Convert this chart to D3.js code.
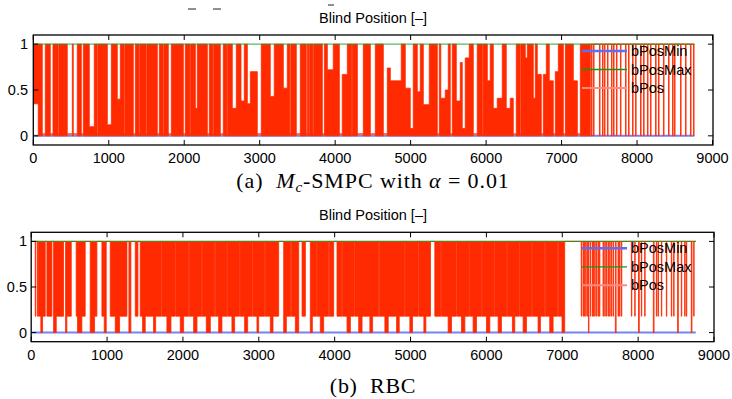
<!DOCTYPE html>
<html>
<head>
<meta charset="utf-8">
<script src="https://cdn.jsdelivr.net/npm/d3@7/dist/d3.min.js"></script>
<style>
  body { margin: 0; background: #fff; }
</style>
</head>
<body>
<svg id="chart" width="732" height="399"></svg>
<script>
// axis ticks
const xTicks = [0, 1000, 2000, 3000, 4000, 5000, 6000, 7000, 8000, 9000];
const yTicks = [0, 0.5, 1];
const yTickLabels = ['0', '0.5', '1'];
const seriesNames = ['bPosMin', 'bPosMax', 'bPos'];
const plotTitle = 'Blind Position [–]';

// limits of the blind position (flat over the year)
const bPosMin = 0;
const bPosMax = 1;
const hourSpan = [0, 8760];

// bPos, read off the picture as runs: [start hour, lowest value, highest value]
// each run lasts until the next start; inside a run the signal swings between lo and hi
const runsA = [
  [0, 0.35, 1], [66, 0, 1], [119, 0.02, 0.02], [159, 0, 1], [225, 0.02, 0.02], [261, 0, 1],
  [330, 0.02, 0.02], [340, 0, 1],
  [450, 0.02, 0.02], [517, 0, 1], [530, 0.02, 0.02], [583, 0, 1], [636, 0.02, 0.02], [663, 0, 1],
  [742, 0, 0.1], [808, 0, 1], [845, 0.02, 0.02], [855, 0, 1], [981, 0, 0.12], [1034, 0, 1],
  [1113, 0, 0.4], [1153, 0, 1], [1205, 0.02, 0.02], [1215, 0, 1],
  [1325, 0.02, 0.02], [1352, 0, 1], [1400, 0.02, 0.02], [1410, 0, 1], [1495, 0.02, 0.02], [1505, 0, 1],
  [1643, 0.02, 0.02], [1670, 0, 1], [1720, 0.02, 0.02], [1730, 0, 1], [1789, 0.02, 0.02], [1829, 0, 1],
  [1988, 0.02, 0.02], [2014, 0, 1], [2075, 0.02, 0.02], [2085, 0, 1], [2147, 0, 0.3], [2173, 0, 1],
  [2306, 0.02, 0.02], [2332, 0, 1], [2380, 0.02, 0.02], [2390, 0, 1],
  [2478, 0.02, 0.02], [2518, 0, 1], [2565, 0.02, 0.02], [2575, 0, 1], [2637, 0, 0.3], [2690, 0, 1],
  [2752, 0, 0.38], [2796, 0, 1],
  [2836, 0, 0.35], [2876, 0, 0.7], [2968, 0.02, 0.02], [3021, 0, 1], [3140, 0, 0.43], [3193, 0, 1],
  [3313, 0, 0.52], [3366, 0, 1], [3400, 0.02, 0.02], [3412, 0, 1], [3485, 0.02, 0.02], [3538, 0, 1],
  [3617, 0.02, 0.02], [3631, 0, 1], [3652, 0.02, 0.02], [3662, 0, 1], [3705, 0.02, 0.02], [3715, 0, 1],
  [3830, 0.02, 0.02], [3857, 0, 1], [3896, 0, 0.72], [3975, 0, 1], [4055, 0.02, 0.02], [4094, 0, 0.67],
  [4161, 0, 1], [4220, 0.02, 0.02], [4230, 0, 1], [4294, 0.02, 0.02], [4373, 0, 1], [4466, 0.02, 0.02],
  [4532, 0, 1], [4638, 0.02, 0.02],
  [4691, 0, 0.74], [4731, 0, 0.6], [4876, 0, 1], [4929, 0, 0.52], [4995, 0, 0.08], [5035, 0, 1],
  [5088, 0, 0.48], [5128, 0, 1], [5168, 0, 0.34], [5247, 0, 1], [5353, 0.02, 0.02], [5380, 0, 1],
  [5400, 0, 0.41], [5459, 0, 0.5], [5499, 0, 1], [5525, 0.02, 0.02], [5552, 0, 1], [5605, 0, 0.38],
  [5658, 0, 0.8], [5684, 0, 0.08], [5724, 0, 0.85], [5777, 0, 1], [5830, 0.02, 0.02], [5883, 0, 1],
  [5950, 0.02, 0.02], [5960, 0, 1],
  [6016, 0, 0.6], [6055, 0, 1], [6095, 0, 0.3], [6148, 0, 0.41], [6214, 0, 1], [6267, 0, 0.3],
  [6320, 0, 0.41], [6360, 0.02, 0.02], [6400, 0, 1], [6450, 0.02, 0.02], [6460, 0, 1],
  [6519, 0, 0.85], [6546, 0, 1], [6625, 0, 0.41],
  [6652, 0, 1], [6678, 0, 0.67], [6731, 0.02, 0.02], [6758, 0, 0.67], [6798, 0, 1], [6837, 0, 0.6],
  [6890, 0.02, 0.02], [6917, 0, 0.7], [6957, 0, 1], [7023, 0.02, 0.02], [7050, 0, 1], [7156, 0, 0.6],
  [7209, 0.02, 0.02], [7249, 0, 1], [7381, 1, 1],
  [7396, 0, 1], [7404, 1, 1], [7423, 0, 1], [7431, 1, 1], [7502, 0, 1], [7510, 1, 1],
  [7542, 0, 1], [7550, 1, 1], [7568, 0, 1], [7576, 1, 1], [7608, 0, 1], [7616, 1, 1],
  [7661, 0, 1], [7669, 1, 1], [7688, 0, 1], [7696, 1, 1], [7727, 0, 1], [7735, 1, 1],
  [7780, 0, 1], [7788, 1, 1], [7847, 0, 1], [7855, 1, 1], [7887, 0, 1], [7895, 1, 1],
  [7940, 0, 1], [7948, 1, 1], [7980, 0, 1], [7988, 1, 1], [8046, 0, 1], [8054, 1, 1],
  [8086, 0, 1], [8094, 1, 1], [8138, 0, 1], [8146, 1, 1], [8178, 0, 1], [8186, 1, 1],
  [8245, 0, 1], [8253, 1, 1], [8284, 0, 1], [8292, 1, 1], [8350, 0, 1], [8358, 1, 1],
  [8417, 0, 1], [8425, 1, 1], [8470, 0, 1], [8478, 1, 1], [8496, 0, 1], [8504, 1, 1],
  [8576, 0, 1], [8584, 1, 1], [8642, 0, 1], [8650, 1, 1], [8708, 0, 1], [8716, 1, 1],
  [8748, 0, 1], [8756, 1, 1], [8760, 1, 1]
];

const runsB = [
  [0, 1, 1], [53, 0.18, 1], [62, 1, 1], [84, 0.18, 1], [90, 1, 1], [97, 0.18, 1], [127, 0, 1],
  [150, 0.18, 1], [185, 1, 1], [207, 0.18, 1], [273, 1, 1], [295, 0, 1], [330, 0.18, 1],
  [426, 1, 1], [453, 0, 1], [470, 0.18, 1], [528, 1, 1], [593, 0.18, 1], [611, 0, 1],
  [668, 0.18, 1], [712, 1, 1], [778, 0, 1], [835, 0.18, 1], [866, 1, 1], [932, 0.18, 1],
  [963, 0, 1], [989, 1, 1], [1042, 0.18, 1], [1108, 0, 1], [1165, 0.18, 1], [1262, 1, 1],
  [1288, 0, 1], [1314, 1, 1], [1372, 0.18, 1], [1407, 1, 1], [1437, 0.18, 1], [1468, 0, 1],
  [1503, 0.18, 1], [1613, 0, 1], [1640, 0.18, 1], [1715, 1, 1], [1723, 0.18, 1], [1789, 0, 1],
  [1842, 0.18, 1], [1900, 1, 1], [1908, 0.18, 1], [1965, 0, 1],
  [2009, 0.18, 1], [2075, 1, 1], [2083, 0.18, 1], [2141, 0, 1], [2185, 0.18, 1], [2245, 1, 1],
  [2253, 0.18, 1], [2308, 0, 1], [2361, 0.18, 1], [2420, 1, 1], [2428, 0.18, 1], [2471, 0, 1],
  [2514, 0.18, 1], [2580, 1, 1], [2588, 0.18, 1], [2646, 0, 1], [2681, 0.18, 1], [2745, 1, 1],
  [2753, 0.18, 1], [2813, 0, 1], [2853, 0.18, 1], [2915, 1, 1], [2923, 0.18, 1], [2976, 0, 1],
  [2998, 0.18, 1], [3075, 1, 1], [3083, 0.18, 1], [3152, 0, 1], [3187, 0.18, 1], [3262, 1, 1],
  [3328, 0, 1], [3363, 0.18, 1], [3420, 1, 1], [3428, 0.18, 1],
  [3482, 0, 1], [3526, 1, 1], [3570, 0.18, 1], [3614, 1, 1], [3679, 0, 1], [3706, 0.18, 1],
  [3760, 1, 1], [3768, 0.18, 1], [3811, 0, 1], [3855, 0.18, 1], [3920, 1, 1], [3928, 0.18, 1],
  [3987, 1, 1], [4031, 0.18, 1], [4095, 1, 1], [4103, 0.18, 1], [4163, 0, 1], [4207, 0.18, 1],
  [4260, 1, 1], [4268, 0.18, 1],
  [4317, 0, 1], [4361, 0.18, 1], [4464, 0, 1], [4500, 0.18, 1], [4580, 1, 1], [4588, 0.18, 1],
  [4662, 0, 1], [4706, 0.18, 1],
  [4816, 0, 1], [4851, 0.18, 1], [4920, 1, 1], [4928, 0.18, 1], [4991, 0, 1], [5026, 0.18, 1],
  [5100, 1, 1], [5108, 0.18, 1], [5176, 0, 1], [5202, 0.18, 1],
  [5263, 1, 1], [5320, 0.18, 1], [5400, 1, 1], [5408, 0.18, 1], [5496, 0, 1], [5540, 0.18, 1],
  [5600, 1, 1], [5608, 0.18, 1], [5672, 0, 1], [5716, 0.18, 1], [5770, 1, 1], [5778, 0.18, 1],
  [5825, 0, 1], [5869, 0.18, 1], [5935, 1, 1], [5943, 0.18, 1], [6001, 0, 1], [6045, 0.18, 1],
  [6100, 1, 1], [6108, 0.18, 1], [6155, 0, 1], [6198, 0.18, 1], [6270, 1, 1], [6278, 0.18, 1],
  [6343, 0, 1], [6374, 0.18, 1], [6430, 1, 1], [6438, 0.18, 1], [6484, 0, 1], [6528, 0.18, 1],
  [6600, 1, 1], [6608, 0.18, 1], [6681, 0, 1], [6712, 0.18, 1], [6770, 1, 1], [6778, 0.18, 1],
  [6835, 0, 1], [6879, 0.18, 1], [6940, 1, 1], [6948, 0.18, 1], [6997, 0, 1], [7032, 1, 1],
  [7250, 0.18, 1], [7256, 1, 1], [7274, 0.18, 1], [7280, 1, 1], [7290, 0.18, 1], [7296, 1, 1],
  [7309, 0.18, 1], [7315, 1, 1], [7330, 0.18, 1], [7336, 1, 1], [7345, 0, 1], [7352, 1, 1],
  [7370, 0.18, 1], [7376, 1, 1], [7397, 0.18, 1], [7403, 1, 1], [7410, 0.18, 1], [7416, 1, 1],
  [7428, 0.18, 1], [7434, 1, 1], [7450, 0.18, 1], [7456, 1, 1], [7472, 0.18, 1], [7478, 1, 1],
  [7490, 0.18, 1], [7496, 1, 1], [7537, 0.18, 1], [7543, 1, 1], [7560, 0.18, 1], [7566, 1, 1],
  [7580, 0.18, 1], [7586, 1, 1], [7603, 0.18, 1], [7609, 1, 1], [7625, 0.18, 1], [7631, 1, 1],
  [7647, 0.18, 1], [7653, 1, 1], [7670, 0.18, 1], [7676, 1, 1], [7700, 0, 1], [7710, 1, 1],
  [7735, 0.18, 1], [7741, 1, 1], [7755, 0.18, 1], [7761, 1, 1], [7779, 0.18, 1], [7785, 1, 1],
  [7911, 0.18, 1], [7917, 1, 1], [7955, 0.18, 1], [7961, 1, 1], [8005, 0, 1], [8015, 1, 1],
  [8042, 0.18, 1], [8048, 1, 1], [8086, 0.18, 1], [8092, 1, 1], [8200, 0, 1], [8210, 1, 1],
  [8240, 0.18, 1], [8246, 1, 1], [8262, 0.18, 1], [8268, 1, 1], [8306, 0.18, 1], [8312, 1, 1],
  [8372, 0.18, 1], [8378, 1, 1], [8437, 0.18, 1], [8443, 1, 1], [8468, 0.18, 1], [8474, 1, 1],
  [8520, 0, 1], [8530, 1, 1], [8569, 0.18, 1], [8575, 1, 1], [8613, 0.18, 1], [8619, 1, 1],
  [8635, 0.18, 1], [8641, 1, 1], [8700, 0, 1], [8710, 1, 1], [8732, 0.18, 1], [8738, 1, 1],
  [8760, 1, 1]
];

const svg = d3.select('#chart');
const sans = '"Liberation Sans", Arial, sans-serif';
const serif = '"Liberation Serif", "DejaVu Serif", serif';
const colors = { min: '#5d6ef2', max: '#17951a', pos: '#ff2a00', posLegend: '#ff8c80' };

const panels = [
  { runs: runsA, left: 33.3, right: 713, top: 35, bottom: 145, xEnd: 712.5, labelRight: 28, titleY: 23 },
  { runs: runsB, left: 31.2, right: 714, top: 232.3, bottom: 341.7, xEnd: 714, labelRight: 27, titleY: 220 }
];

panels.forEach((p, k) => {
  const x = d3.scaleLinear().domain([0, 9000]).range([p.left, p.xEnd]);
  const y = d3.scaleLinear().domain([-0.1, 1.1]).range([p.bottom, p.top]);
  const g = svg.append('g').style('font-family', sans);

  const clipId = 'clip' + k;
  g.append('clipPath').attr('id', clipId)
    .append('rect')
    .attr('x', p.left).attr('y', p.top)
    .attr('width', p.right - p.left).attr('height', p.bottom - p.top);

  const plot = g.append('g').attr('clip-path', 'url(#' + clipId + ')');
  const flat = d3.line().x(d => x(d[0])).y(d => y(d[1]));

  // lower limit sits under the position trace
  plot.append('path')
    .datum(hourSpan.map(h => [h, bPosMin]))
    .attr('d', flat)
    .attr('fill', 'none')
    .attr('stroke', colors.min)
    .attr('stroke-opacity', 0.85)
    .attr('stroke-width', 2);

  // bPos as a band between lo and hi per run
  const area = d3.area()
    .x(d => x(d[0]))
    .y0(d => y(d[1]))
    .y1(d => y(d[2]))
    .curve(d3.curveStepAfter);

  plot.append('path')
    .datum(p.runs)
    .attr('d', area)
    .attr('fill', colors.pos)
    .attr('stroke', colors.pos)
    .attr('stroke-width', 0.8);

  plot.append('path')
    .datum(hourSpan.map(h => [h, bPosMax]))
    .attr('d', flat)
    .attr('fill', 'none')
    .attr('stroke', colors.max)
    .attr('stroke-opacity', 0.7)
    .attr('stroke-width', 1.3);

  // frame
  g.append('rect')
    .attr('x', p.left).attr('y', p.top)
    .attr('width', p.right - p.left).attr('height', p.bottom - p.top)
    .attr('fill', 'none').attr('stroke', '#000').attr('stroke-width', 1.3);

  // inward ticks
  const tk = 5;
  xTicks.forEach(t => {
    const xx = Math.min(x(t), p.right);
    g.append('line').attr('x1', xx).attr('x2', xx).attr('y1', p.top).attr('y2', p.top + tk)
      .attr('stroke', '#000').attr('stroke-width', 1);
    g.append('line').attr('x1', xx).attr('x2', xx).attr('y1', p.bottom).attr('y2', p.bottom - tk)
      .attr('stroke', '#000').attr('stroke-width', 1);
    g.append('text').attr('x', x(t)).attr('y', p.bottom + 18)
      .attr('text-anchor', 'middle').attr('font-size', 14.5).text(t);
  });
  yTicks.forEach((t, i) => {
    g.append('line').attr('x1', p.left).attr('x2', p.left + tk).attr('y1', y(t)).attr('y2', y(t))
      .attr('stroke', '#000').attr('stroke-width', 1);
    g.append('line').attr('x1', p.right).attr('x2', p.right - tk).attr('y1', y(t)).attr('y2', y(t))
      .attr('stroke', '#000').attr('stroke-width', 1);
    g.append('text').attr('x', p.labelRight).attr('y', y(t) + 5)
      .attr('text-anchor', 'end').attr('font-size', 14.5).text(yTickLabels[i]);
  });

  g.append('text').attr('x', 373).attr('y', p.titleY)
    .attr('text-anchor', 'middle').attr('font-size', 14.5).text(plotTitle);

  // legend, no box
  const legColors = [colors.min, colors.max, colors.posLegend];
  const legWidths = [2.5, 1.3, 2];
  seriesNames.forEach((name, i) => {
    const ly = p.top + 16 + i * 18.5;
    g.append('line').attr('x1', 582).attr('x2', 627).attr('y1', ly).attr('y2', ly)
      .attr('stroke', legColors[i]).attr('stroke-width', legWidths[i]);
    g.append('text').attr('x', 631).attr('y', ly + 5).attr('font-size', 14.5).text(name);
  });
});

// stray marks above the first title
[[188, 196, 9], [213, 221, 9], [328, 334, 5]].forEach(m => {
  svg.append('line').attr('x1', m[0]).attr('x2', m[1]).attr('y1', m[2]).attr('y2', m[2])
    .attr('stroke', '#222').attr('stroke-width', 1);
});

// captions
const capA = svg.append('text').attr('x', 373).attr('y', 188).attr('text-anchor', 'middle')
  .style('font-family', serif).attr('font-size', 22)
  .attr('letter-spacing', 0.9);
capA.append('tspan').text('(a)\u00a0\u00a0');
capA.append('tspan').attr('font-style', 'italic').text('M');
capA.append('tspan').attr('font-style', 'italic').attr('font-size', 15).attr('dy', 4).text('c');
capA.append('tspan').attr('dy', -4).text('-SMPC with ');
capA.append('tspan').attr('font-style', 'italic').text('α');
capA.append('tspan').text('\u00a0=\u00a00.01');

svg.append('text').attr('x', 373).attr('y', 393).attr('text-anchor', 'middle')
  .style('font-family', serif).attr('font-size', 22)
  .attr('letter-spacing', 0.7)
  .text('(b)\u00a0\u00a0RBC');
</script>
</body>
</html>
